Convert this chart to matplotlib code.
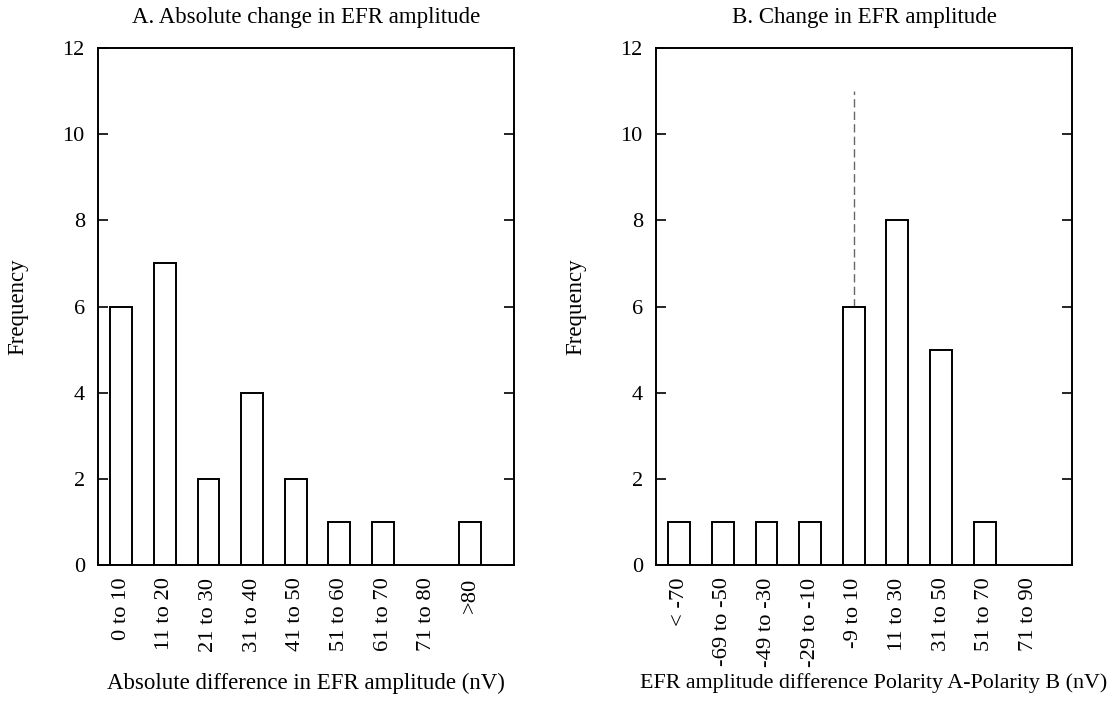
import matplotlib
matplotlib.use("Agg")
import matplotlib.pyplot as plt
import numpy as np

plt.rcParams['font.family'] = ['Liberation Serif', 'DejaVu Serif']
plt.rcParams['font.size'] = 16.5

# Panel A data
cats_a = ["0 to 10", "11 to 20", "21 to 30", "31 to 40", "41 to 50",
          "51 to 60", "61 to 70", "71 to 80", ">80"]
freq_a = [6, 7, 2, 4, 2, 1, 1, 0, 1]

# Panel B data
cats_b = ["< -70", "-69 to -50", "-49 to -30", "-29 to -10", "-9 to 10",
          "11 to 30", "31 to 50", "51 to 70", "71 to 90"]
freq_b = [1, 1, 1, 1, 6, 8, 5, 1, 0]

# Reference line in panel B (at the "-9 to 10" category)
ref_cat = "-9 to 10"
ref_top = 11

yticks = [0, 2, 4, 6, 8, 10, 12]

W, H = 1119, 703
fig = plt.figure(figsize=(W / 100, H / 100), dpi=100)

AX_TOP, AX_BOT = 48, 565
AX_H = AX_BOT - AX_TOP
AX_W = 416

def px_axes(x0, x1):
    return fig.add_axes([x0 / W, 1 - AX_BOT / H, (x1 - x0) / W, AX_H / H])

axA = px_axes(98, 514)
axB = px_axes(656, 1072)

def style(ax, cats, freq, title, xlabel, xlabel_x, xlabel_base, xlabel_size):
    x = np.arange(len(cats))
    mask = np.array(freq) > 0
    ax.bar(x[mask], np.array(freq)[mask], width=0.5, color="white",
           edgecolor="black", linewidth=1.4, zorder=2)
    ax.set_xlim(-0.53, 9.0)
    ax.set_ylim(0, 12)
    ax.set_yticks(yticks)
    ax.set_xticks(x)
    ax.set_xticklabels(cats, rotation=90, ha="center", va="top")
    ax.tick_params(axis="x", length=0, pad=9, labelsize=16.2)
    ax.tick_params(axis="y", direction="in", length=7, width=1.2,
                   left=True, right=True, pad=9.5, labelsize=16)
    for s in ax.spines.values():
        s.set_linewidth(1.4)
    ax.text(0.5, (AX_BOT - 23) / AX_H, title, transform=ax.transAxes,
            ha="center", va="baseline", fontsize=16.5)
    ax.set_xlabel(xlabel, va="baseline", fontsize=xlabel_size)
    ax.xaxis.set_label_coords(xlabel_x, (AX_BOT - xlabel_base) / AX_H)
    ax.set_ylabel("Frequency", va="center")
    ax.yaxis.set_label_coords(-80 / AX_W, 0.5)

style(axA, cats_a, freq_a, "A. Absolute change in EFR amplitude",
      "Absolute difference in EFR amplitude (nV)", 0.5, 689, 16.5)
style(axB, cats_b, freq_b, "B. Change in EFR amplitude",
      "EFR amplitude difference Polarity A-Polarity B (nV)",
      (874 - 656) / AX_W, 688, 15.8)

ri = cats_b.index(ref_cat)
axB.plot([ri, ri], [freq_b[ri], ref_top], color="#666666", linestyle=(0, (6, 3)),
         linewidth=1.0, zorder=1)

fig.savefig("out.png", dpi=100, facecolor="white")
